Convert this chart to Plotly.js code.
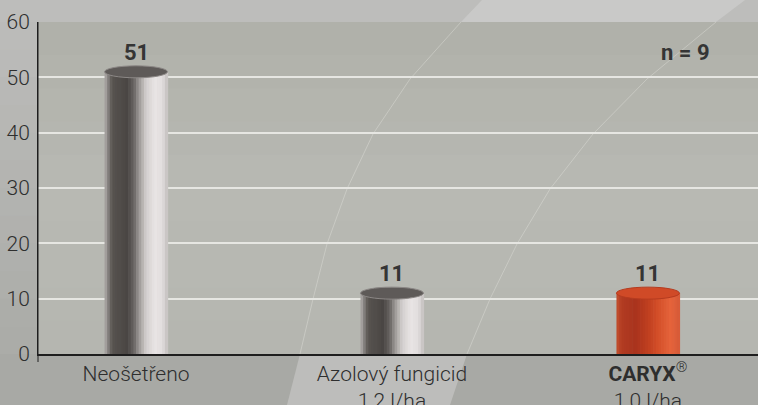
<!DOCTYPE html>
<html>
<head>
<meta charset="utf-8">
<script src="https://cdn.plot.ly/plotly-3.0.1.min.js"></script>
<style>
  html, body { margin: 0; padding: 0; background: #b4b4b1; }
  #chart { width: 758px; height: 405px; }
</style>
</head>
<body>
<div id="chart"></div>
<script>
// ---- data ----
const categories = ['Neošetřeno', 'Azolový fungicid', 'CARYX'];
const values = [51, 11, 11];
const tickLabels = ['Neošetřeno', 'Azolový fungicid<br>1,2 l/ha', '<b>CARYX</b><sup>®</sup><br>1,0 l/ha'];
const valueLabels = ['51', '11', '11'];
const barKinds = ['metal', 'metal', 'orange'];
const yTicks = [0, 10, 20, 30, 40, 50, 60];
const noteText = '<b>n = 9</b>';

// ---- style ----
const FONT = 'Roboto, "Liberation Sans", sans-serif';
const TEXT = '#2e2e2e';
const BAR_W = 0.246;          // bar width in category units
const STRIPS = 24;
const gradients = {
  metal: [[0, '#b3afad'], [0.05, '#8a8684'], [0.12, '#57534f'], [0.36, '#4a4644'], [0.46, '#676361'],
          [0.56, '#a29e9c'], [0.66, '#d3cfce'], [0.8, '#e9e5e5'], [0.92, '#e1dddd'], [1, '#c2bebd']],
  orange: [[0, '#c4502e'], [0.08, '#b23c22'], [0.3, '#a9331d'], [0.5, '#bf3f1f'], [0.66, '#d44f29'],
           [0.86, '#e5643b'], [1, '#d65a38']]
};
const capStyle = {
  metal: {fill: '#5e5a58', line: '#8c8886'},
  orange: {fill: '#d04a27', line: '#b53b1f'}
};

function hex2rgb(h) { return [1, 3, 5].map(i => parseInt(h.slice(i, i + 2), 16)); }
function colorAt(stops, t) {
  for (let i = 1; i < stops.length; i++) {
    if (t <= stops[i][0]) {
      const [t0, c0] = stops[i - 1], [t1, c1] = stops[i];
      const f = (t - t0) / (t1 - t0);
      const a = hex2rgb(c0), b = hex2rgb(c1);
      return 'rgb(' + a.map((v, k) => Math.round(v + (b[k] - v) * f)).join(',') + ')';
    }
  }
  return stops[stops.length - 1][1];
}

// ---- bar traces: each bar drawn as overlaid vertical strips (cylinder shading) ----
const stripW = BAR_W / STRIPS;
const traces = [];
for (let s = 0; s < STRIPS; s++) {
  const t = (s + 0.5) / STRIPS;
  traces.push({
    type: 'bar',
    x: categories,
    y: values,
    width: stripW * 1.25,
    offset: -BAR_W / 2 + s * stripW,
    marker: {color: barKinds.map(k => colorAt(gradients[k], t)), line: {width: 0}, opacity: 1},
    hoverinfo: 'skip',
    showlegend: false
  });
}

// ---- geometry helpers for decorative background (plot area: x 38..758, y 22..354 px) ----
const L = 38, R = 758, T = 22, B = 354;
const px = x => (x - L) / (R - L);
const py = y => (B - y) / (B - T);
function rect(x0, y0, x1, y1, fill) {
  return {type: 'rect', xref: 'paper', yref: 'paper', x0: px(x0), x1: px(x1), y0: py(y1), y1: py(y0),
          fillcolor: fill, line: {width: 0}, layer: 'below'};
}
function poly(pts, fill, lineColor, lw) {
  const d = 'M ' + pts.map(p => px(p[0]) + ',' + py(p[1])).join(' L ') + (fill ? ' Z' : '');
  return {type: 'path', xref: 'paper', yref: 'paper', path: d, fillcolor: fill || 'rgba(0,0,0,0)',
          line: {width: lw || 0, color: lineColor || 'rgba(0,0,0,0)'}, layer: 'below'};
}
function mix(c0, c1, f) {
  const a = hex2rgb(c0), b = hex2rgb(c1);
  return 'rgb(' + a.map((v, k) => Math.round(v + (b[k] - v) * f)).join(',') + ')';
}

const shapes = [];
// page background gradient (top lighter, bottom darker)
const BGN = 12;
for (let i = 0; i < BGN; i++) {
  const y0 = T + (B - T) * i / BGN, y1 = T + (B - T) * (i + 1) / BGN + 0.5;
  shapes.push(rect(0, y0, R, y1, mix('#bcbcba', '#aaaba7', (i + 0.5) / BGN)));
}
shapes.push(rect(0, 0, R, T, '#bdbdbb'));
shapes.push(rect(0, B, R, 405, '#a8a9a5'));
// plot area with soft vertical gradient
const PGN = 10;
for (let i = 0; i < PGN; i++) {
  const f = (i + 0.5) / PGN;
  const c = f < 0.5 ? mix('#afb0a9', '#b8b9b3', f / 0.5) : mix('#b8b9b3', '#b5b6b0', (f - 0.5) / 0.5);
  const y0 = T + (B - T) * i / PGN, y1 = T + (B - T) * (i + 1) / PGN + 0.5;
  shapes.push(rect(L, y0, R, y1, c));
}
// light diagonal band, visible outside the plot area
shapes.push(poly([[482, 0], [745, 0], [716, 22], [461, 22]], '#c9c9c8'));
shapes.push(poly([[300, 354], [467, 354], [450, 405], [287, 405]], '#bdbdbb'));
// thin curved edges of the band through the plot area
shapes.push(poly([[461, 22], [410, 79], [373, 134], [347, 189], [327, 244], [313, 299], [300, 354]], null, 'rgba(235,235,230,0.35)', 1));
shapes.push(poly([[716, 22], [647, 79], [593, 134], [550, 189], [517, 244], [490, 299], [467, 354]], null, 'rgba(235,235,230,0.35)', 1));
// y axis line extends a little below zero
shapes.push({type: 'line', xref: 'paper', yref: 'paper', x0: 0, x1: 0, y0: py(362), y1: 1,
             line: {color: '#1e1e1e', width: 1}, layer: 'above'});
// cylinder caps (built from data)
categories.forEach((c, i) => {
  const st = capStyle[barKinds[i]];
  shapes.push({type: 'circle', xref: 'x', yref: 'y', x0: i - BAR_W / 2, x1: i + BAR_W / 2,
               ysizemode: 'pixel', yanchor: values[i], y0: -6, y1: 6,
               fillcolor: st.fill, line: {color: st.line, width: 1}, layer: 'above'});
});

// ---- annotations ----
const annotations = categories.map((c, i) => ({
  x: c, y: values[i], xref: 'x', yref: 'y', text: '<b>' + valueLabels[i] + '</b>',
  showarrow: false, yanchor: 'bottom', yshift: 5,
  font: {family: FONT, size: 22, color: '#353535'}
}));
annotations.push({
  x: px(685), y: py(52), xref: 'paper', yref: 'paper', text: noteText, showarrow: false,
  xanchor: 'center', yanchor: 'middle', font: {family: FONT, size: 22, color: '#353535'}
});

const layout = {
  width: 758, height: 405, autosize: false,
  margin: {l: L, r: 0, t: T, b: 405 - B, pad: 0},
  paper_bgcolor: '#b4b4b1',
  plot_bgcolor: 'rgba(0,0,0,0)',
  barmode: 'overlay',
  showlegend: false,
  xaxis: {
    type: 'category', categoryarray: categories, tickvals: categories, ticktext: tickLabels,
    range: [-0.383, 2.43], showgrid: false, zeroline: false,
    showline: true, linecolor: '#1e1e1e', linewidth: 1.5, ticks: '',
    ticklabelstandoff: 0,
    tickfont: {family: FONT, size: 21, color: TEXT, weight: 300},
    fixedrange: true
  },
  yaxis: {
    range: [0, 60], tickvals: yTicks, ticktext: yTicks.map(String),
    showgrid: true, gridcolor: '#e6e6e2', gridwidth: 2, zeroline: false,
    showline: true, linecolor: '#1e1e1e', linewidth: 1, ticks: '',
    ticklabelstandoff: 3,
    tickfont: {family: FONT, size: 21, color: TEXT, weight: 300},
    fixedrange: true
  },
  shapes: shapes,
  annotations: annotations
};

Plotly.newPlot('chart', traces, layout, {displayModeBar: false, staticPlot: true});
</script>
</body>
</html>
